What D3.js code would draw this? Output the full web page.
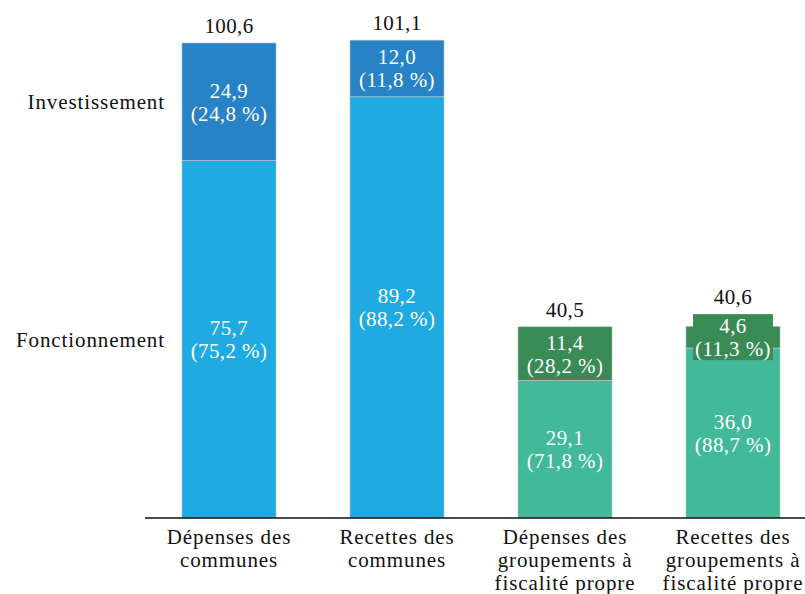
<!DOCTYPE html>
<html>
<head>
<meta charset="utf-8">
<script src="https://cdn.jsdelivr.net/npm/d3@7"></script>
<style>
  body { margin: 0; background: #fff; }
  text { font-family: "Liberation Serif", serif; letter-spacing: 0.4px; }
  text.word { letter-spacing: 0.9px; }
</style>
</head>
<body>
<svg id="chart" width="805" height="594"></svg>
<script>
// data
var categories = ["dep_communes", "rec_communes", "dep_groupements", "rec_groupements"];
var catLabels = [
  ["Dépenses des", "communes"],
  ["Recettes des", "communes"],
  ["Dépenses des", "groupements à", "fiscalité propre"],
  ["Recettes des", "groupements à", "fiscalité propre"]
];
var fonctionnement = [75.7, 89.2, 29.1, 36.0];
var investissement = [24.9, 12.0, 11.4, 4.6];
var totals = [100.6, 101.1, 40.5, 40.6];
var fonctPct = ["75,2", "88,2", "71,8", "88,7"];
var investPct = ["24,8", "11,8", "28,2", "11,3"];
var seriesNames = ["Fonctionnement", "Investissement"];

var fmt = function (v) { return v.toFixed(1).replace(".", ","); };

var svg = d3.select("#chart");
var fs = 21;

var x = d3.scaleBand()
    .domain(categories)
    .range([145, 817])
    .paddingInner(0.44)
    .paddingOuter(0.22);

var y = d3.scaleLinear()
    .domain([0, 109.7])
    .range([518, 0]);

var colors = {
  fonct: ["#1fabe2", "#1fabe2", "#42b998", "#42b998"],
  invest: ["#2782c6", "#2782c6", "#3a8a55", "#3a8a55"]
};

var rows = categories.map(function (c, i) {
  return { cat: c, i: i, f: fonctionnement[i], inv: investissement[i], top: y(fonctionnement[i] + investissement[i]) };
});

// fonctionnement segments
svg.selectAll(".fonct")
  .data(rows)
  .enter().append("rect")
  .attr("class", "fonct")
  .attr("x", function (d) { return x(d.cat); })
  .attr("width", x.bandwidth())
  .attr("y", function (d) { return y(d.f); })
  .attr("height", function (d) { return y(0) - y(d.f); })
  .attr("fill", function (d) { return colors.fonct[d.i]; })
  .attr("stroke", "#c8c8c8").attr("stroke-width", 0.6);

// investissement segments
svg.selectAll(".invest")
  .data(rows)
  .enter().append("rect")
  .attr("class", "invest")
  .attr("x", function (d) { return x(d.cat); })
  .attr("width", x.bandwidth())
  .attr("y", function (d) { return y(d.f + d.inv); })
  .attr("height", function (d) { return y(d.f) - y(d.f + d.inv); })
  .attr("fill", function (d) { return colors.invest[d.i]; })
  .attr("stroke", "#c8c8c8").attr("stroke-width", 0.6);

// segment labels (with a background box when the segment is too thin)
function segLabel(d, val, pct, y0, y1, bg) {
  var cx = x(d.cat) + x.bandwidth() / 2;
  var cy = (y(y0) + y(y1)) / 2;
  var g = svg.append("g");
  var t = g.append("text")
    .attr("text-anchor", "middle")
    .attr("fill", "#fff")
    .attr("font-size", fs);
  t.append("tspan").attr("x", cx).attr("y", cy - 4).text(fmt(val));
  t.append("tspan").attr("x", cx).attr("y", cy + 19).text("(" + pct + " %)");
  var bb = t.node().getBBox();
  if (y(y0) - y(y1) < 46) {
    var top = cy - 23;
    g.insert("rect", "text")
      .attr("x", bb.x - 2).attr("y", top)
      .attr("width", bb.width + 4).attr("height", 46)
      .attr("fill", bg);
    d.top = Math.min(d.top, top);
  }
}
rows.forEach(function (d) {
  segLabel(d, d.f, fonctPct[d.i], 0, d.f, colors.fonct[d.i]);
  segLabel(d, d.inv, investPct[d.i], d.f, d.f + d.inv, colors.invest[d.i]);
});

// totals
svg.selectAll(".total")
  .data(rows)
  .enter().append("text")
  .attr("class", "total")
  .attr("x", function (d) { return x(d.cat) + x.bandwidth() / 2; })
  .attr("y", function (d) { return d.top - 10; })
  .attr("text-anchor", "middle")
  .attr("font-size", fs)
  .attr("fill", "#111")
  .text(function (d) { return fmt(totals[d.i]); });

// series labels on the left, aligned with first bar's segments
var first = rows[0];
var seriesY = [(y(0) + y(first.f)) / 2, (y(first.f) + y(first.f + first.inv)) / 2];
svg.selectAll(".series")
  .data(seriesNames)
  .enter().append("text")
  .attr("class", "series word")
  .attr("x", 165)
  .attr("y", function (d, i) { return seriesY[i]; })
  .attr("dy", "0.35em")
  .attr("text-anchor", "end")
  .attr("font-size", fs)
  .attr("fill", "#111")
  .text(function (d) { return d; });

// x axis
var xAxis = d3.axisBottom(x).tickSize(0).tickFormat("");
var ax = svg.append("g")
  .attr("transform", "translate(0," + y(0) + ")")
  .call(xAxis);
ax.select(".domain").remove();
ax.append("line")
  .attr("x1", 145).attr("x2", 805)
  .attr("stroke", "#111").attr("stroke-width", 1.5);

ax.selectAll(".tick").each(function (c, i) {
  var t = d3.select(this).append("text")
    .attr("class", "word")
    .attr("text-anchor", "middle")
    .attr("fill", "#111")
    .attr("font-size", fs);
  catLabels[i].forEach(function (line, k) {
    t.append("tspan").attr("x", 0).attr("y", 26 + k * 23).text(line);
  });
});
</script>
</body>
</html>
